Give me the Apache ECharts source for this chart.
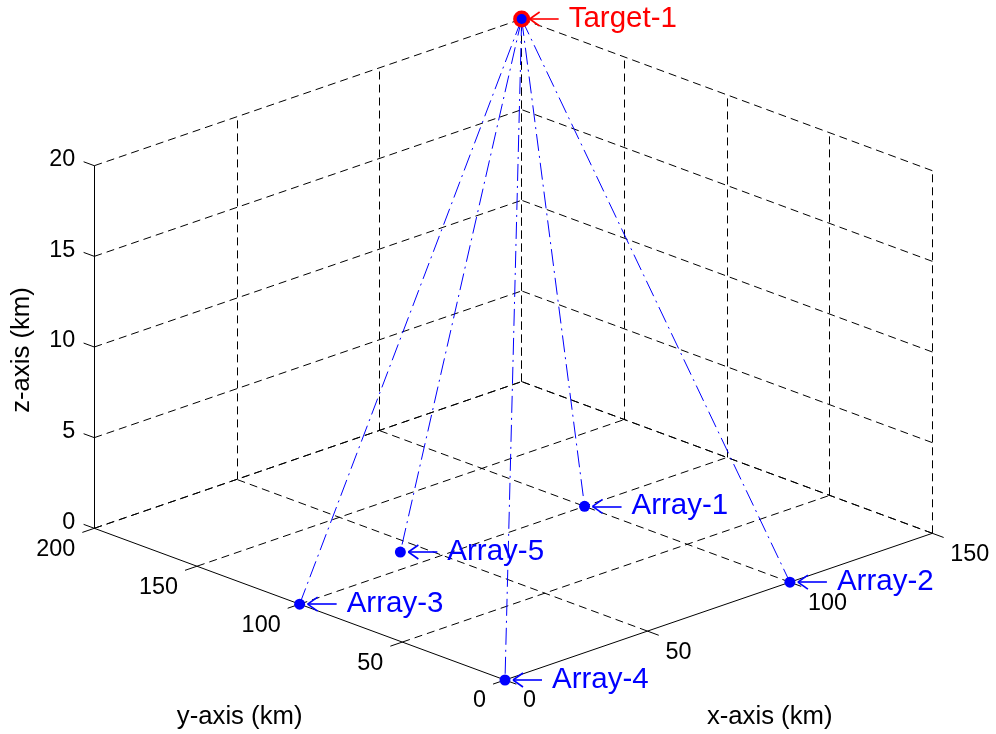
<!DOCTYPE html>
<html><head><meta charset="utf-8">
<script src="https://cdn.jsdelivr.net/npm/echarts@6/dist/echarts.min.js"></script>
<style>html,body{margin:0;padding:0;background:#fff}#c{width:996px;height:734px}</style>
</head><body><div id="c"></div>
<script>
// ---------------- data ----------------
const xTicks = [0, 50, 100, 150];
const yTicks = [0, 50, 100, 150, 200];
const zTicks = [0, 5, 10, 15, 20];
const xTitle = 'x-axis (km)';
const yTitle = 'y-axis (km)';
const zTitle = 'z-axis (km)';
const targetNames = ['Target-1'];
const targetX = [150];
const targetY = [200];
const targetZ = [20];
const arrayNames = ['Array-1', 'Array-2', 'Array-3', 'Array-4', 'Array-5'];
const arrayX = [100, 100, 0, 0, 44];
const arrayY = [100, 0, 100, 0, 112];
const arrayZ = [0, 0, 0, 0, 0];

// ---------------- view (orthographic 3D projection onto a 2D value grid) ----------------
const W = 996, H = 734;
const O = [505, 680], EX = [2.849, -0.978], EY = [-2.0535, -0.7585], EZ = 18.13;
function P(x, y, z) { return [O[0] + x * EX[0] + y * EY[0], O[1] + x * EX[1] + y * EY[1] - z * EZ]; }
const XMIN = xTicks[0], XMAX = xTicks[xTicks.length - 1];
const YMIN = yTicks[0], YMAX = yTicks[yTicks.length - 1];
const ZMIN = zTicks[0], ZMAX = zTicks[zTicks.length - 1];
const FONT = "'Liberation Sans', Arial, Helvetica, sans-serif";

// grid (dashed) segments
const gridSegs = [];
xTicks.forEach(x => { if (x !== XMIN) { gridSegs.push([P(x, YMAX, ZMIN), P(x, YMAX, ZMAX)]); gridSegs.push([P(x, YMIN, ZMIN), P(x, YMAX, ZMIN)]); } });
yTicks.forEach(y => { gridSegs.push([P(XMAX, y, ZMIN), P(XMAX, y, ZMAX)]); if (y !== YMIN) gridSegs.push([P(XMIN, y, ZMIN), P(XMAX, y, ZMIN)]); });
zTicks.forEach(z => { gridSegs.push([P(XMIN, YMAX, z), P(XMAX, YMAX, z)]); gridSegs.push([P(XMAX, YMIN, z), P(XMAX, YMAX, z)]); });

// solid axes + ticks
const axisSegs = [
  [P(XMIN, YMIN, ZMIN), P(XMAX, YMIN, ZMIN)],
  [P(XMIN, YMIN, ZMIN), P(XMIN, YMAX, ZMIN)],
  [P(XMIN, YMAX, ZMIN), P(XMIN, YMAX, ZMAX)]
];
xTicks.forEach(x => axisSegs.push([P(x, YMIN, ZMIN), P(x, YMIN - 5.5, ZMIN)]));
yTicks.forEach(y => axisSegs.push([P(XMIN, y, ZMIN), P(XMIN - 4.2, y, ZMIN)]));
zTicks.forEach(z => axisSegs.push([P(XMIN, YMAX, z), P(XMIN, YMAX + 5.2, z)]));

// sight lines target -> arrays
const sightSegs = [];
targetX.forEach((tx, t) => arrayX.forEach((ax, i) => sightSegs.push([P(tx, targetY[t], targetZ[t]), P(ax, arrayY[i], arrayZ[i])])));

// annotation arrows ("\leftarrow") drawn next to each annotated point
function arrowSegs(p) {
  const s = [p[0] + 8, p[1]];
  return [[s, [p[0] + 37, p[1]]], [s, [p[0] + 18, p[1] - 7]], [s, [p[0] + 18, p[1] + 7]]];
}
const targetPts = targetX.map((x, i) => P(x, targetY[i], targetZ[i]));
const arrayPts = arrayX.map((x, i) => P(x, arrayY[i], arrayZ[i]));
const redArrows = [].concat(...targetPts.map(arrowSegs));
const blueArrows = [].concat(...arrayPts.map(arrowSegs));

function labelSeries(items, opt) {
  return {
    type: 'scatter', silent: true, symbolSize: 0, z: 10,
    itemStyle: { opacity: 1 },
    data: items.map(it => ({ value: [it[0][0], it[0][1]], label: { formatter: it[1] } })),
    label: Object.assign({ show: true, position: 'inside', fontFamily: FONT, color: '#000', opacity: 1 }, opt)
  };
}
function segSeries(segs, color, width, type, z) {
  return { type: 'lines', coordinateSystem: 'cartesian2d', silent: true, z: z,
    data: segs.map(s => ({ coords: s })),
    lineStyle: { color: color, width: width, type: type, opacity: 1 } };
}

const option = {
  animation: false,
  backgroundColor: '#fff',
  grid: { left: 0, top: 0, width: W, height: H },
  xAxis: { type: 'value', min: 0, max: W, show: false },
  yAxis: { type: 'value', min: 0, max: H, inverse: true, show: false },
  series: [
    segSeries(gridSegs, '#000', 1, [8, 5], 1),
    segSeries(axisSegs, '#000', 1, 'solid', 2),
    segSeries(sightSegs, '#0000ff', 1, [17, 5, 2, 5], 3),
    segSeries(redArrows, '#ff0000', 1.6, 'solid', 6),
    segSeries(blueArrows, '#0000ff', 1.6, 'solid', 6),
    { type: 'scatter', silent: true, z: 4, symbol: 'circle', symbolSize: 17,
      itemStyle: { color: '#ff0000', opacity: 1 }, data: targetPts },
    { type: 'scatter', silent: true, z: 5, symbol: 'circle', symbolSize: 10,
      itemStyle: { color: '#0000ff', opacity: 1 }, data: targetPts },
    { type: 'scatter', silent: true, z: 5, symbol: 'circle', symbolSize: 11,
      itemStyle: { color: '#0000ff', opacity: 1 }, data: arrayPts },
    // tick labels
    labelSeries(zTicks.map(z => [P(XMIN, YMAX, z), String(z)]), { align: 'right', verticalAlign: 'middle', offset: [-19, -6], fontSize: 23.4 }),
    labelSeries(yTicks.map(y => [P(XMIN, y, ZMIN), String(y)]), { align: 'right', verticalAlign: 'middle', offset: [-19, 21], fontSize: 23.4 }),
    labelSeries(xTicks.map(x => [P(x, YMIN, ZMIN), String(x)]), { align: 'left', verticalAlign: 'middle', offset: [18, 21], fontSize: 23.4 }),
    // axis titles
    labelSeries([[P((XMIN + XMAX) / 2, YMIN, ZMIN), xTitle]], { align: 'center', verticalAlign: 'middle', offset: [51, 110], fontSize: 25.7 }),
    labelSeries([[P(XMIN, (YMIN + YMAX) / 2, ZMIN), yTitle]], { align: 'center', verticalAlign: 'middle', offset: [-60, 113], fontSize: 25.7 }),
    labelSeries([[P(XMIN, YMAX, (ZMIN + ZMAX) / 2), zTitle]], { align: 'center', verticalAlign: 'middle', offset: [-3, -72], rotate: 90, fontSize: 25.7 }),
    // annotations
    labelSeries(targetNames.map((n, i) => [targetPts[i], n]), { align: 'left', verticalAlign: 'middle', offset: [47, 0], fontSize: 29.5, color: '#ff0000' }),
    labelSeries(arrayNames.map((n, i) => [arrayPts[i], n]), { align: 'left', verticalAlign: 'middle', offset: [47, 0], fontSize: 29.5, color: '#0000ff' })
  ]
};
const chart = echarts.init(document.getElementById('c'));
chart.setOption(option);
</script></body></html>
